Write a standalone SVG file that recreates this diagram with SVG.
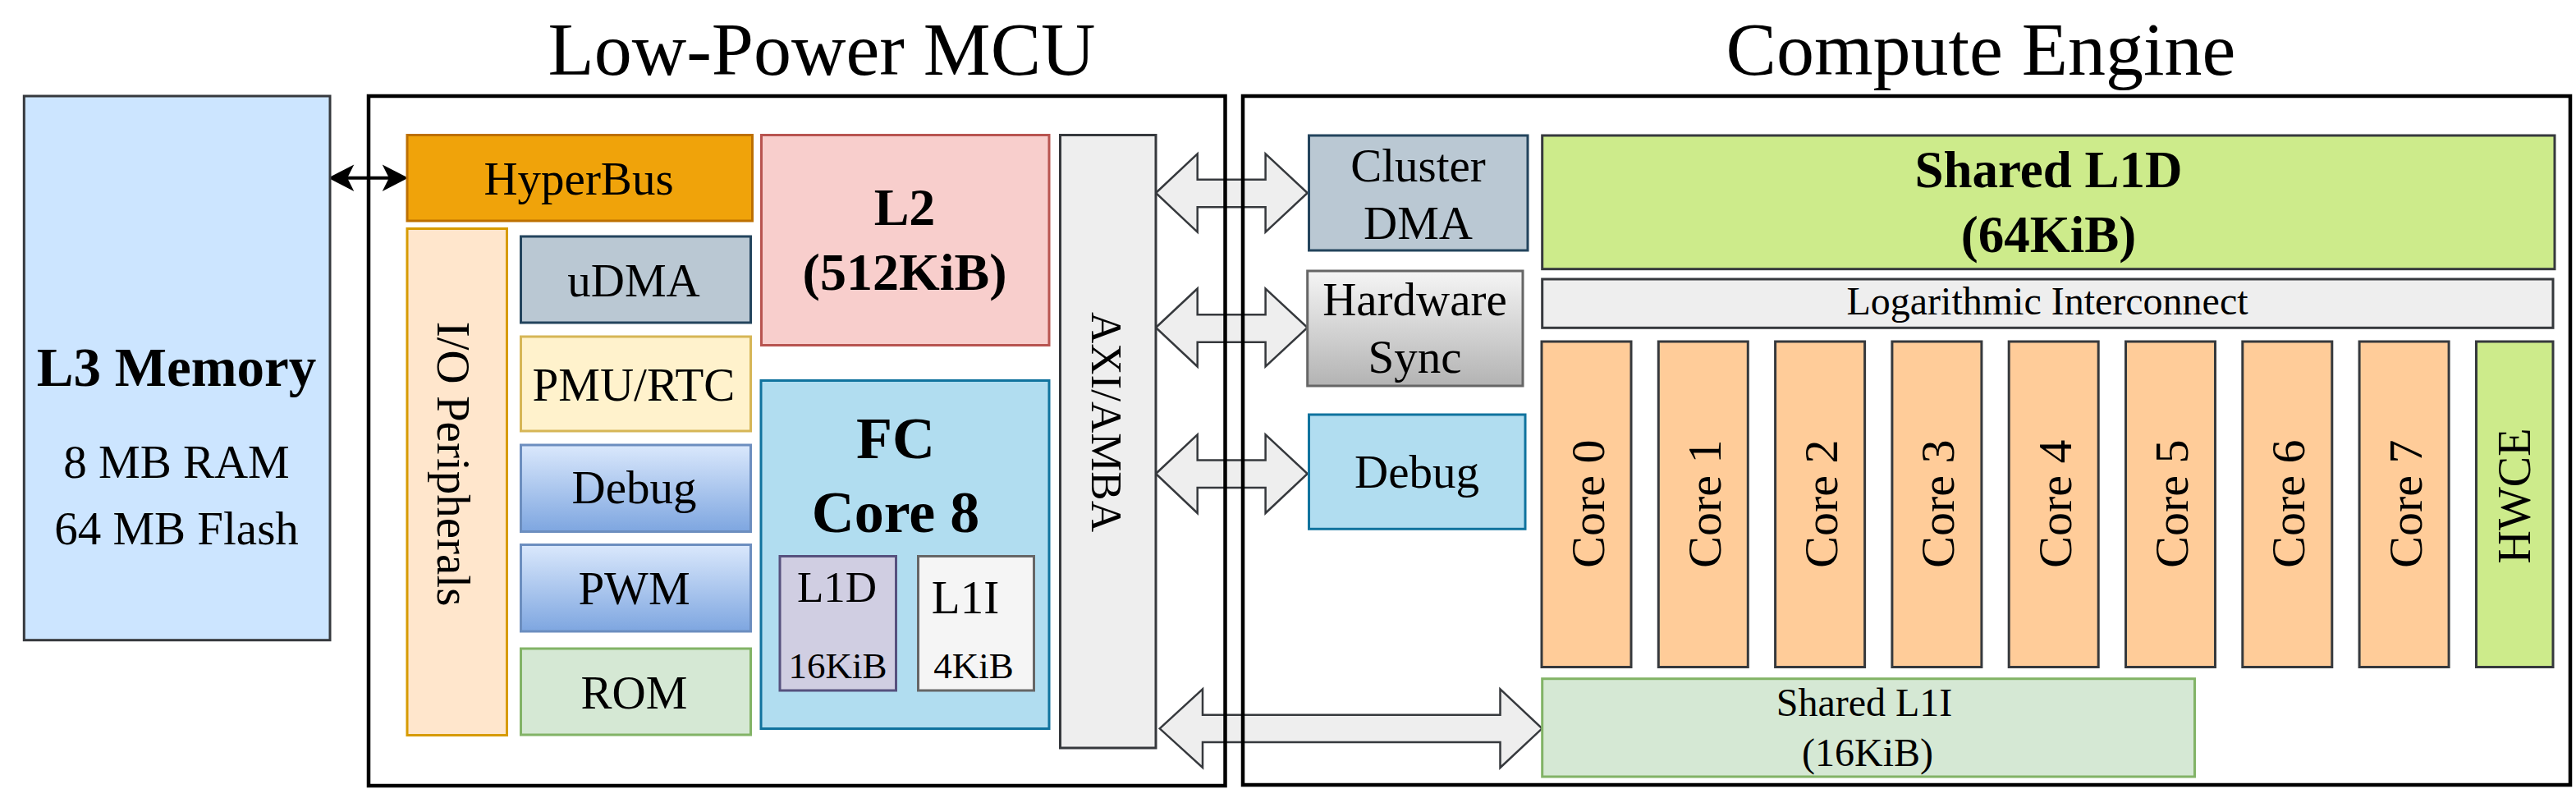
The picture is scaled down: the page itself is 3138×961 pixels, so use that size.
<svg xmlns="http://www.w3.org/2000/svg" width="3138" height="961" viewBox="0 0 3138 961">
<defs>
<linearGradient id="gBlue" x1="0" y1="0" x2="0" y2="1"><stop offset="0" stop-color="#dae8fc"/><stop offset="1" stop-color="#7ea6e0"/></linearGradient>
<linearGradient id="gGray" x1="0" y1="0" x2="0" y2="1"><stop offset="0" stop-color="#f5f5f5"/><stop offset="1" stop-color="#b3b3b3"/></linearGradient>
</defs>
<style>
text{font-family:"Liberation Serif","Times New Roman",serif;fill:#000;text-anchor:middle}
.t{font-size:57px}
.b{font-weight:bold}
.title{font-size:92px}
rect{stroke-width:3}
.cont{fill:none;stroke:#000;stroke-width:4.5}
.blk{fill:#eeeeee;stroke:#36393d;stroke-width:2.5}
.core{fill:#ffcc99;stroke:#36393d}
</style>
<rect width="3138" height="961" fill="#fff" stroke="none"/>

<g id="titles">
<text class="title" x="1001" y="91">Low-Power MCU</text>
<text class="title" x="2413" y="91">Compute Engine</text>
</g>

<g id="connectors">
<line x1="418" y1="216.7" x2="480" y2="216.7" stroke="#000" stroke-width="4"/>
<polygon points="402,216.7 429,202.7 422,216.7 429,230.7" fill="#000" stroke="#000" stroke-width="2"/>
<polygon points="495,216.7 468,202.7 475,216.7 468,230.7" fill="#000" stroke="#000" stroke-width="2"/>
<polygon class="blk" points="1408,235 1458.7,187.3 1458.7,218.7 1541.6,218.7 1541.6,187.3 1592.7,235 1541.6,282.7 1541.6,252.3 1458.7,252.3 1458.7,282.7"/>
<polygon class="blk" points="1408,399 1458.7,351.5 1458.7,383.3 1541.6,383.3 1541.6,351.5 1592.7,399 1541.6,446.5 1541.6,416.7 1458.7,416.7 1458.7,446.5"/>
<polygon class="blk" points="1408,577 1458.7,529.3 1458.7,560.5 1541.6,560.5 1541.6,529.3 1592.7,577 1541.6,625 1541.6,594 1458.7,594 1458.7,625"/>
<polygon class="blk" points="1412.7,887.3 1465,839.3 1465,870.7 1827.5,870.7 1827.5,839.3 1878.5,887.3 1827.5,935 1827.5,904 1465,904 1465,935"/>
</g>

<g id="mcu">
<rect class="cont" x="449" y="117" width="1043.5" height="840"/>
</g>
<g id="compute">
<rect class="cont" x="1514" y="117" width="1617" height="839"/>
</g>

<g id="l3">
<rect x="29.3" y="117" width="372.7" height="662.7" fill="#cce5ff" stroke="#36393d" stroke-width="4.5"/>
<text class="b" x="215" y="470" font-size="67">L3 Memory</text>
<text class="t" x="215" y="582">8 MB RAM</text>
<text class="t" x="215" y="663">64 MB Flash</text>
</g>

<g id="hyperbus">
<rect x="496" y="164.5" width="420.5" height="104.5" fill="#f0a30a" stroke="#bd7000"/>
<text class="t" x="705" y="237">HyperBus</text>
</g>

<g id="io">
<rect x="496" y="278.5" width="121.5" height="617" fill="#ffe6cc" stroke="#d79b00"/>
<text class="t" transform="translate(532.5,565) rotate(90)">I/O Peripherals</text>
</g>

<g id="udma">
<rect x="634.5" y="288" width="280" height="105" fill="#bac8d3" stroke="#23445d"/>
<text class="t" x="772" y="361">uDMA</text>
</g>
<g id="pmu">
<rect x="634.5" y="410" width="280" height="115" fill="#fff2cc" stroke="#d6b656"/>
<text class="t" x="772" y="487.5">PMU/RTC</text>
</g>
<g id="debug-mcu">
<rect x="634.5" y="542" width="280" height="105.5" fill="url(#gBlue)" stroke="#6c8ebf"/>
<text class="t" x="772.5" y="612.5">Debug</text>
</g>
<g id="pwm">
<rect x="634.5" y="663.5" width="280" height="105.5" fill="url(#gBlue)" stroke="#6c8ebf"/>
<text class="t" x="772.5" y="736">PWM</text>
</g>
<g id="rom">
<rect x="634.5" y="790" width="280" height="105" fill="#d5e8d4" stroke="#82b366"/>
<text class="t" x="772.5" y="862.5">ROM</text>
</g>

<g id="l2">
<rect x="927.5" y="164.5" width="350.5" height="256" fill="#f8cecc" stroke="#b85450"/>
<text class="b" x="1102" y="274" font-size="64">L2</text>
<text class="b" x="1102" y="353" font-size="64">(512KiB)</text>
</g>

<g id="fc">
<rect x="927" y="463.5" width="351" height="424" fill="#b1ddf0" stroke="#10739e"/>
<text class="b" x="1091" y="557.5" font-size="72">FC</text>
<text class="b" x="1091" y="648.3" font-size="72">Core 8</text>
</g>
<g id="fc-l1d">
<rect x="950" y="677.5" width="141.5" height="163.5" fill="#d0cee2" stroke="#56517e"/>
<text x="1019.5" y="732.7" font-size="53">L1D</text>
<text x="1020.5" y="825.7" font-size="45">16KiB</text>
</g>
<g id="fc-l1i">
<rect x="1118.5" y="677.5" width="141" height="163.5" fill="#f5f5f5" stroke="#666666"/>
<text x="1176" y="746.7" font-size="57">L1I</text>
<text x="1186" y="825.7" font-size="45">4KiB</text>
</g>

<g id="axi">
<rect x="1291.5" y="164.5" width="116.5" height="746.5" fill="#eeeeee" stroke="#36393d"/>
<text transform="translate(1330,514) rotate(90)" font-size="53">AXI/AMBA</text>
</g>

<g id="cluster-dma">
<rect x="1594.5" y="165" width="266.5" height="140" fill="#bac8d3" stroke="#23445d"/>
<text class="t" x="1727.5" y="220.7">Cluster</text>
<text class="t" x="1727.5" y="290.7">DMA</text>
</g>
<g id="hw-sync">
<rect x="1592.7" y="330" width="262.3" height="140" fill="url(#gGray)" stroke="#666666"/>
<text class="t" x="1723.5" y="384">Hardware</text>
<text class="t" x="1723.5" y="454">Sync</text>
</g>
<g id="debug-ce">
<rect x="1594.5" y="505" width="263.5" height="139.3" fill="#b1ddf0" stroke="#10739e"/>
<text class="t" x="1726" y="594.3">Debug</text>
</g>

<g id="shared-l1d">
<rect x="1878.7" y="165" width="1233.3" height="162.7" fill="#cdeb8b" stroke="#36393d"/>
<text class="b" x="2495.5" y="227.7" font-size="63">Shared L1D</text>
<text class="b" x="2495.5" y="306.7" font-size="63">(64KiB)</text>
</g>
<g id="log-ic">
<rect x="1878.7" y="340" width="1231.3" height="59.3" fill="#eeeeee" stroke="#36393d"/>
<text x="2494" y="383.3" font-size="48">Logarithmic Interconnect</text>
</g>

<g id="core0"><rect class="core" x="1878" y="416" width="109" height="396.5"/><text transform="translate(1953.5,613.5) rotate(-90)" font-size="58">Core 0</text></g>
<g id="core1"><rect class="core" x="2020.3" y="416" width="109" height="396.5"/><text transform="translate(2095.8,613.5) rotate(-90)" font-size="58">Core 1</text></g>
<g id="core2"><rect class="core" x="2162.6" y="416" width="109" height="396.5"/><text transform="translate(2238.1,613.5) rotate(-90)" font-size="58">Core 2</text></g>
<g id="core3"><rect class="core" x="2304.9" y="416" width="109" height="396.5"/><text transform="translate(2380.4,613.5) rotate(-90)" font-size="58">Core 3</text></g>
<g id="core4"><rect class="core" x="2447.2" y="416" width="109" height="396.5"/><text transform="translate(2522.7,613.5) rotate(-90)" font-size="58">Core 4</text></g>
<g id="core5"><rect class="core" x="2589.5" y="416" width="109" height="396.5"/><text transform="translate(2665,613.5) rotate(-90)" font-size="58">Core 5</text></g>
<g id="core6"><rect class="core" x="2731.8" y="416" width="109" height="396.5"/><text transform="translate(2807.3,613.5) rotate(-90)" font-size="58">Core 6</text></g>
<g id="core7"><rect class="core" x="2874.1" y="416" width="109" height="396.5"/><text transform="translate(2949.6,613.5) rotate(-90)" font-size="58">Core 7</text></g>
<g id="hwce"><rect x="3016.5" y="416" width="93.5" height="396.5" fill="#cdeb8b" stroke="#36393d"/><text transform="translate(3082,604) rotate(-90)" font-size="56">HWCE</text></g>

<g id="shared-l1i">
<rect x="1878.7" y="826.7" width="794.8" height="119.3" fill="#d5e8d4" stroke="#82b366"/>
<text x="2271" y="871.7" font-size="48">Shared L1I</text>
<text x="2275" y="932.7" font-size="48">(16KiB)</text>
</g>
</svg>
